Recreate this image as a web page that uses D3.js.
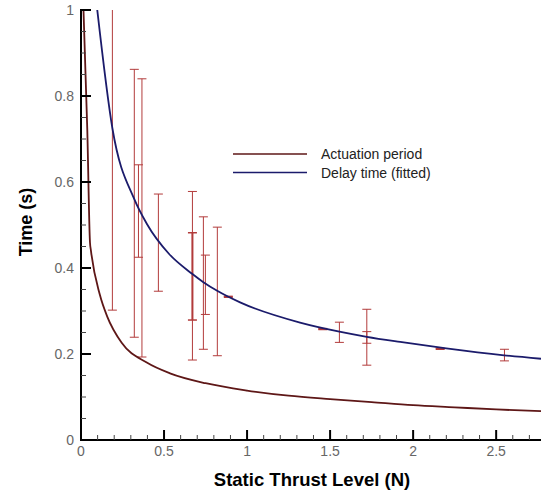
<!DOCTYPE html>
<html>
<head>
<meta charset="utf-8">
<script src="https://cdn.jsdelivr.net/npm/d3@7"></script>
<style>
  body { margin: 0; background: #fff; }
  svg { display: block; font-family: "Liberation Sans", Arial, sans-serif; }
</style>
</head>
<body>
<svg id="chart" width="541" height="492"></svg>
<script>
// Actuation period curve
var actX = [0.015, 0.038, 0.054, 0.06, 0.114, 0.158, 0.245, 0.396, 0.536, 0.75, 1.0, 1.25, 1.5, 1.75, 2.0, 2.25, 2.5, 2.77];
var actY = [1.0, 0.72, 0.46, 0.44, 0.337, 0.287, 0.226, 0.180, 0.155, 0.132, 0.115, 0.103, 0.095, 0.088, 0.081, 0.076, 0.071, 0.067];

// Delay time (fitted) curve
var delX = [0.098, 0.189, 0.321, 0.396, 0.532, 0.671, 0.737, 0.82, 0.958, 1.319, 1.556, 1.721, 1.922, 2.2, 2.548, 2.77];
var delY = [1.0, 0.725, 0.56, 0.503, 0.432, 0.386, 0.367, 0.347, 0.32, 0.273, 0.252, 0.24, 0.228, 0.213, 0.197, 0.189];

// Measured delay error bars: x, low, high
var barX  = [0.189, 0.321, 0.346, 0.367, 0.466, 0.671, 0.671, 0.737, 0.749, 0.821, 0.887, 1.456, 1.556, 1.721, 1.721, 2.163, 2.55];
var barLo = [0.302, 0.239, 0.425, 0.193, 0.346, 0.186, 0.279, 0.211, 0.292, 0.196, 0.332, 0.257, 0.227, 0.174, 0.225, 0.211, 0.184];
var barHi = [1.15, 0.862, 0.640, 0.840, 0.572, 0.578, 0.482, 0.519, 0.430, 0.495, 0.334, 0.259, 0.274, 0.304, 0.252, 0.213, 0.211];
var barBold = [0, 0, 0, 0, 0, 0, 1, 0, 0, 0, 1, 1, 0, 0, 0, 1, 0];

var xTicks = [0, 0.5, 1, 1.5, 2, 2.5];
var xTickLabels = ["0", "0.5", "1", "1.5", "2", "2.5"];
var yTicks = [0, 0.2, 0.4, 0.6, 0.8, 1];
var yTickLabels = ["0", "0.2", "0.4", "0.6", "0.8", "1"];

var svg = d3.select("#chart");
var pLeft = 81, pRight = 541, pTop = 10, pBottom = 440;

var x = d3.scaleLinear().domain([0, 2.77]).range([pLeft, pRight]);
var y = d3.scaleLinear().domain([0, 1]).range([pBottom, pTop]);

svg.append("clipPath").attr("id", "plot")
  .append("rect").attr("x", pLeft).attr("y", pTop).attr("width", pRight - pLeft).attr("height", pBottom - pTop);

var g = svg.append("g").attr("clip-path", "url(#plot)");

// error bars
var barColor = "#b23b3b";
barX.forEach(function(v, i) {
  var px = x(v), sw = barBold[i] ? 2 : 1;
  g.append("line").attr("x1", px).attr("x2", px)
    .attr("y1", y(barLo[i])).attr("y2", y(barHi[i]))
    .attr("stroke", barColor).attr("stroke-width", sw);
  [barLo[i], barHi[i]].forEach(function(c) {
    g.append("line").attr("x1", px - 4.5).attr("x2", px + 4.5)
      .attr("y1", y(c)).attr("y2", y(c))
      .attr("stroke", barColor).attr("stroke-width", barBold[i] ? 1.5 : 1);
  });
});

var line = d3.line()
  .x(function(d) { return x(d[0]); })
  .y(function(d) { return y(d[1]); })
  .curve(d3.curveMonotoneX);

g.append("path").datum(d3.zip(actX, actY))
  .attr("d", line).attr("fill", "none")
  .attr("stroke", "#5e1717").attr("stroke-width", 1.8);

g.append("path").datum(d3.zip(delX, delY))
  .attr("d", line).attr("fill", "none")
  .attr("stroke", "#1b1b6b").attr("stroke-width", 1.8);

// axes
var axisG = svg.append("g");
axisG.append("line").attr("x1", pLeft).attr("x2", pRight).attr("y1", pBottom).attr("y2", pBottom)
  .attr("stroke", "#000").attr("stroke-width", 2);
axisG.append("line").attr("x1", pLeft).attr("x2", pLeft).attr("y1", pTop - 1).attr("y2", pBottom + 1)
  .attr("stroke", "#000").attr("stroke-width", 2);

d3.range(0, 2.8, 0.1).forEach(function(v) {
  var major = Math.abs(v * 2 - Math.round(v * 2)) < 1e-6;
  axisG.append("line").attr("x1", x(v)).attr("x2", x(v))
    .attr("y1", pBottom).attr("y2", pBottom - (major ? 10 : 5))
    .attr("stroke", major ? "#000" : "#444").attr("stroke-width", major ? 2 : 1);
});
d3.range(0, 1.001, 0.05).forEach(function(v) {
  var major = Math.abs(v * 5 - Math.round(v * 5)) < 1e-6;
  axisG.append("line").attr("x1", pLeft).attr("x2", pLeft + (major ? 10 : 5))
    .attr("y1", y(v)).attr("y2", y(v))
    .attr("stroke", major ? "#000" : "#444").attr("stroke-width", major ? 2 : 1);
});

axisG.selectAll(".xl").data(xTicks).enter().append("text")
  .attr("x", function(d) { return x(d); }).attr("y", 456)
  .attr("text-anchor", "middle").attr("font-size", 14).attr("fill", "#666")
  .text(function(d, i) { return xTickLabels[i]; });

axisG.selectAll(".yl").data(yTicks).enter().append("text")
  .attr("x", 74).attr("y", function(d) { return y(d) + 5; })
  .attr("text-anchor", "end").attr("font-size", 14).attr("fill", "#666")
  .text(function(d, i) { return yTickLabels[i]; });

svg.append("text").attr("x", 312).attr("y", 486)
  .attr("text-anchor", "middle").attr("font-size", 18.5).attr("font-weight", "bold")
  .text("Static Thrust Level (N)");

svg.append("text").attr("transform", "translate(32,222) rotate(-90)")
  .attr("text-anchor", "middle").attr("font-size", 18).attr("font-weight", "bold")
  .text("Time (s)");

// legend
var legend = [["Actuation period", "#5e1717"], ["Delay time (fitted)", "#1b1b6b"]];
legend.forEach(function(d, i) {
  var ly = 154 + i * 18.5;
  svg.append("line").attr("x1", 233).attr("x2", 307).attr("y1", ly).attr("y2", ly)
    .attr("stroke", d[1]).attr("stroke-width", 1.5);
  svg.append("text").attr("x", 321).attr("y", ly + 5).attr("font-size", 14).attr("fill", "#222")
    .text(d[0]);
});
</script>
</body>
</html>
